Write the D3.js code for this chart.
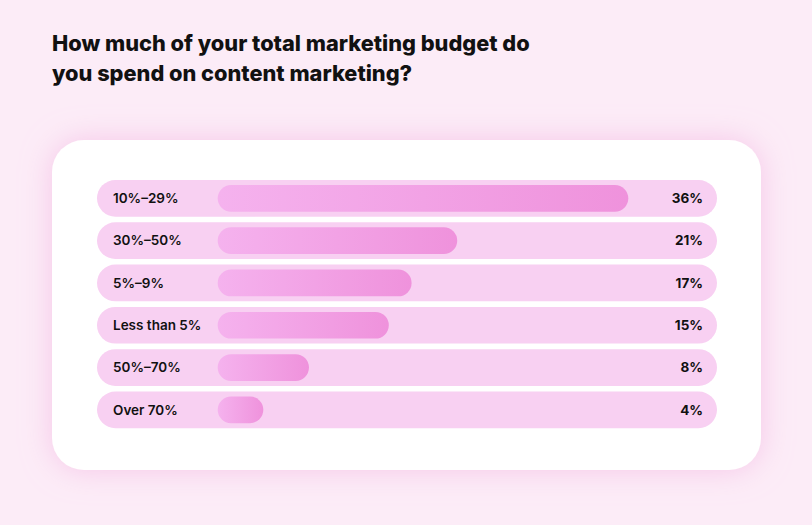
<!DOCTYPE html>
<html><head><meta charset="utf-8">
<script src="https://cdn.jsdelivr.net/npm/d3@7"></script>
<style>
html,body{margin:0;padding:0;background:#fcecf7;}
svg{display:block;}
text{font-family:Inter,"Noto Sans",sans-serif;}
</style></head>
<body>
<svg id="chart" width="812" height="525"></svg>
<script>
const titleLines = ["How much of your total marketing budget do", "you spend on content marketing?"];
const categories = ["10%–29%", "30%–50%", "5%–9%", "Less than 5%", "50%–70%", "Over 70%"];
const values = [36, 21, 17, 15, 8, 4];
const valueLabels = ["36%", "21%", "17%", "15%", "8%", "4%"];

const svg = d3.select("#chart");
const W = 812, H = 525;
const defs = svg.append("defs");

const glow = defs.append("filter").attr("id","glow").attr("x","-20%").attr("y","-30%").attr("width","140%").attr("height","160%");
glow.append("feGaussianBlur").attr("in","SourceAlpha").attr("stdDeviation",15).attr("result","b");
glow.append("feFlood").attr("flood-color","#f5c2e6").attr("flood-opacity",0.9);
glow.append("feComposite").attr("in2","b").attr("operator","in").attr("result","s");
const m = glow.append("feMerge"); m.append("feMergeNode").attr("in","s"); m.append("feMergeNode").attr("in","SourceGraphic");

const grad = defs.append("linearGradient").attr("id","barGrad").attr("x1","0").attr("x2","1").attr("y1","0").attr("y2","0");
grad.append("stop").attr("offset","0%").attr("stop-color","#f5b2ee");
grad.append("stop").attr("offset","100%").attr("stop-color","#ef92dc");

svg.append("rect").attr("width",W).attr("height",H).attr("fill","#fcecf7");

// title
const title = svg.append("text").attr("x",52).attr("y",51).attr("font-size",22).attr("font-weight",800).attr("fill","#111");
title.selectAll("tspan").data(titleLines).join("tspan").attr("x",52).attr("dy",(d,i)=>i?30:0).text(d=>d);
const firstLen = title.select("tspan").node().getComputedTextLength();
title.attr("font-size", 22 * 478 / firstLen);

// card
svg.append("rect").attr("x",52).attr("y",140).attr("width",709).attr("height",330).attr("rx",32).attr("fill","#fff").attr("filter","url(#glow)");

const trackX0 = 97, trackX1 = 717;
const yb = d3.scaleBand().domain(categories).range([180, 180 + 42.3*6 - 5.6]).paddingInner(5.6/42.3);
const x = d3.scaleLinear().domain([0, 36]).range([217.7, 628.3]);

const rows = svg.append("g").selectAll("g").data(categories).join("g")
  .attr("transform", d => `translate(0,${yb(d)})`);
const th = yb.bandwidth();
rows.append("rect").attr("x",trackX0).attr("width",trackX1-trackX0).attr("height",th).attr("rx",th/2).attr("fill","#f8d0f2");
rows.append("rect").attr("x",x(0)).attr("y",5).attr("height",th-10)
  .attr("width",(d,i)=>x(values[i])-x(0)).attr("rx",(th-10)/2).attr("fill","url(#barGrad)");
rows.append("text").attr("x",113).attr("y",th/2).attr("dy","0.35em").attr("font-size",13.5).attr("font-weight",600).attr("fill","#111").text(d=>d);
rows.append("text").attr("x",703).attr("y",th/2).attr("dy","0.35em").attr("text-anchor","end").attr("font-size",13.5).attr("font-weight",700).attr("fill","#111").text((d,i)=>valueLabels[i]);
</script>
</body></html>
